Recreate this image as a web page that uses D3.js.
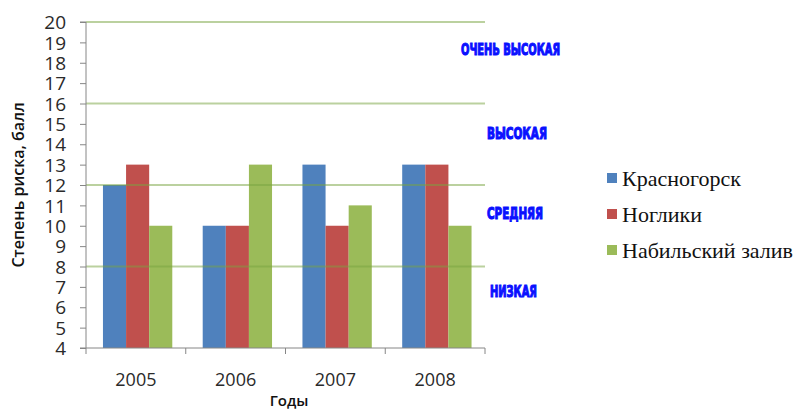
<!DOCTYPE html>
<html><head><meta charset="utf-8">
<script src="https://cdn.jsdelivr.net/npm/d3@7"></script>
<style>body{margin:0;background:#fff}</style>
</head><body>
<svg id="c" width="798" height="412"></svg>
<script>
const years = ["2005","2006","2007","2008"];
const seriesNames = ["Красногорск","Ноглики","Набильский залив"];
const krasnogorsk = [12,10,13,13];
const nogliki = [13,10,10,13];
const nabil = [10,13,11,10];
const seriesColors = ["#4f81bd","#c0504d","#9bbb59"];
const yTicks = d3.range(4,21);
const levelLines = [8,12,16,20];
const levelLabels = ["ОЧЕНЬ ВЫСОКАЯ","ВЫСОКАЯ","СРЕДНЯЯ","НИЗКАЯ"];
const levelLabelValues = [18.67, 14.55, 10.63, 6.8];
const values = [krasnogorsk, nogliki, nabil];

(function(){
const svg = d3.select("#c");
const mLeft = 86, mRight = 485, mTop = 22, mBottom = 348;
const y = d3.scaleLinear().domain([4,20]).range([mBottom, mTop]);
const x0 = d3.scaleBand().domain(years).range([mLeft, mRight]).padding(0);
const bw = x0.bandwidth();
const x1 = d3.scaleBand().domain(seriesNames).range([bw*0.17, bw*0.865]).padding(0);

seriesNames.forEach((s, si) => {
  svg.append("g").selectAll("rect").data(years).join("rect")
    .attr("x", (d) => x0(d) + x1(s))
    .attr("y", (d, i) => y(values[si][i]))
    .attr("width", x1.bandwidth())
    .attr("height", (d, i) => mBottom - y(values[si][i]))
    .attr("fill", seriesColors[si]);
});

svg.append("g").selectAll("line").data(levelLines).join("line")
  .attr("x1", mLeft).attr("x2", mRight)
  .attr("y1", d => y(d)).attr("y2", d => y(d))
  .attr("stroke", "#77a33f").attr("stroke-opacity", 0.5).attr("stroke-width", 2);

const yAxis = d3.axisLeft(y).tickValues(yTicks).tickSize(6).tickFormat(d3.format("d"));
const gy = svg.append("g").attr("transform", `translate(${mLeft},0)`).call(yAxis);
gy.select(".domain").attr("stroke", "#868686").attr("d", `M-6,${mTop}H0V${mBottom}H-6`);
gy.selectAll(".tick line").attr("stroke", "#868686");
gy.selectAll(".tick text").attr("font-family", "'Open Sans', 'DejaVu Sans', sans-serif")
  .attr("font-size", 19).attr("fill", "#2a2a2a").attr("x", -20).attr("dy", "0.35em");

const xAxis = d3.axisBottom(x0).tickSize(0).tickFormat(d => d);
const gx = svg.append("g").attr("transform", `translate(0,${mBottom})`).call(xAxis);
gx.select(".domain").attr("stroke", "#868686").attr("d", `M${mLeft},0H${mRight}`);
gx.selectAll(".tick text").attr("font-family", "'Open Sans', 'DejaVu Sans', sans-serif")
  .attr("font-size", 18).attr("fill", "#2a2a2a").attr("y", 38).attr("dy", 0);
svg.append("g").selectAll("line").data(years.concat(["end"])).join("line")
  .attr("x1", (d, i) => i < years.length ? x0(d) : mRight)
  .attr("x2", (d, i) => i < years.length ? x0(d) : mRight)
  .attr("y1", mBottom).attr("y2", mBottom + 6)
  .attr("stroke", "#868686");

svg.append("text").attr("transform", "translate(24,185) rotate(-90)")
  .attr("text-anchor", "middle").attr("font-family", "'Open Sans', 'DejaVu Sans', sans-serif")
  .attr("font-weight", 600).attr("font-size", 16).attr("fill", "#111")
  .text("Степень риска, балл");
svg.append("text").attr("x", 289).attr("y", 406)
  .attr("text-anchor", "middle").attr("font-family", "'Open Sans', 'DejaVu Sans', sans-serif")
  .attr("font-weight", 600).attr("font-size", 15).attr("fill", "#111")
  .text("Годы");

const labelX = [461, 487, 487, 490];
const labelW = [99, 60, 56, 47];
svg.append("g").selectAll("text").data(levelLabels).join("text")
  .attr("x", (d, i) => labelX[i]).attr("y", (d, i) => y(levelLabelValues[i]))
  .attr("dy", "0.36em")
  .attr("textLength", (d, i) => labelW[i]).attr("lengthAdjust", "spacingAndGlyphs")
  .attr("font-family", "'DejaVu Sans Condensed', 'Liberation Sans Narrow', sans-serif")
  .attr("font-weight", "bold").attr("font-size", 16)
  .attr("fill", "#0a10ff").attr("stroke", "#0a10ff").attr("stroke-width", 1.1)
  .text(d => d);

const lg = svg.append("g").selectAll("g").data(seriesNames).join("g")
  .attr("transform", (d, i) => `translate(607,${178 + i*36})`);
lg.append("rect").attr("x", 0).attr("y", -5).attr("width", 10).attr("height", 10)
  .attr("fill", (d, i) => seriesColors[i]);
lg.append("text").attr("x", 15).attr("dy", "0.35em")
  .attr("font-family", "'Liberation Serif', 'DejaVu Serif', serif")
  .attr("font-size", 22).attr("fill", "#111").text(d => d);
})();
</script>
</body></html>
